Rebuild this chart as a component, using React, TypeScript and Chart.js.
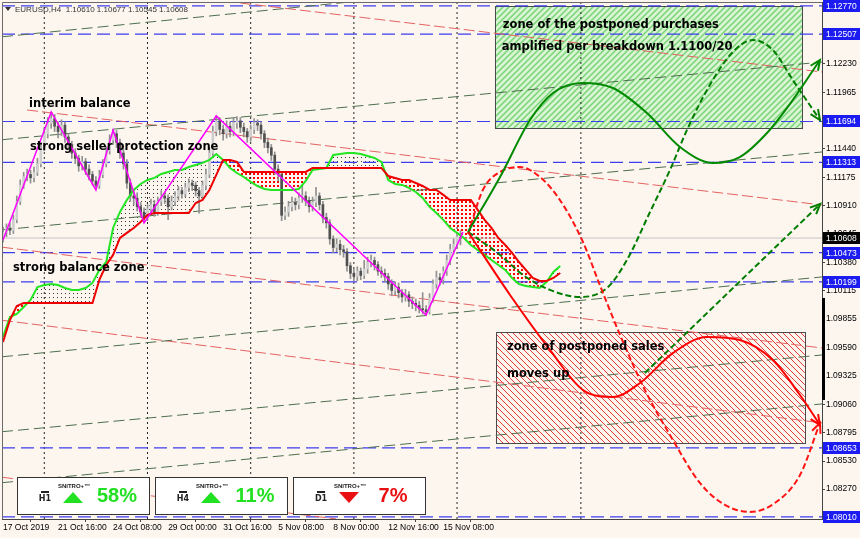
import React, { useEffect, useRef } from 'react';
import { Chart, registerables } from 'chart.js';

Chart.register(...registerables);

const BG = '#fcf6ef';
const AXIS_FAMILY = '"Liberation Sans", Arial, sans-serif';
const NOTE_FONT = 'bold 11.5px "DejaVu Sans", sans-serif';

const X_MIN = -0.3;
const X_MAX = 238.1;
const Y_MIN = 1.07991;
const Y_MAX = 1.12807;

const symbolHeader = 'EURUSD,H4  1.10610 1.10677 1.10545 1.10608';

const xTickBars = [0, 16, 32, 48, 64, 80, 96, 112, 128];
const xTickLabels = ['17 Oct 2019', '21 Oct 16:00', '24 Oct 08:00', '29 Oct 00:00', '31 Oct 16:00', '5 Nov 08:00', '8 Nov 00:00', '12 Nov 16:00', '15 Nov 08:00'];
const yTickValues = [1.1223, 1.11965, 1.1144, 1.11175, 1.1091, 1.10645, 1.1038, 1.10115, 1.09855, 1.0959, 1.09325, 1.0906, 1.08795, 1.0853, 1.0827];
const levelLines = [1.1277, 1.12507, 1.11694, 1.11313, 1.10473, 1.10199, 1.08653, 1.0801];
const currentPrice = 1.10608;
const rangeMarker = [1.091, 1.1005];
const weekSeparators = [12, 42, 72, 102, 132, 168];

const opens = [
  1.1062, 1.1066, 1.1070, 1.1068, 1.1078, 1.1095, 1.1110, 1.1118, 1.1120, 1.1117,
  1.1122, 1.1130, 1.1145, 1.1158, 1.1168, 1.1172, 1.1165, 1.1160, 1.1166, 1.1155,
  1.1148, 1.1140, 1.1135, 1.1128, 1.1132, 1.1125, 1.1120, 1.1114, 1.1110, 1.1120,
  1.1130, 1.1142, 1.1152, 1.1158, 1.1150, 1.1140, 1.1130, 1.1112, 1.1100, 1.1098,
  1.1090, 1.1085, 1.1080, 1.1088, 1.1092, 1.1085, 1.1095, 1.1100, 1.1098, 1.1090,
  1.1095, 1.1100, 1.1105, 1.1102, 1.1108, 1.1112, 1.1110, 1.1105, 1.1100, 1.1110,
  1.1120, 1.1140, 1.1160, 1.1170, 1.1162, 1.1158, 1.1165, 1.1160, 1.1168, 1.1170,
  1.1164, 1.1160, 1.1155, 1.1162, 1.1168, 1.1166, 1.1158, 1.1150, 1.1145, 1.1138,
  1.1125, 1.1120, 1.1082, 1.1085, 1.1090, 1.1094, 1.1092, 1.1098, 1.1100, 1.1096,
  1.1090, 1.1094, 1.1100, 1.1092, 1.1080, 1.1075, 1.1060, 1.1052, 1.1055, 1.1050,
  1.1048, 1.1035, 1.1028, 1.1025, 1.1030, 1.1026, 1.1032, 1.1038, 1.1040, 1.1036,
  1.1030, 1.1028, 1.1025, 1.1018, 1.1012, 1.1015, 1.1010, 1.1006, 1.1008, 1.1002,
  1.1000, 1.0998, 1.0995, 1.0994, 1.0992, 1.1005, 1.1018, 1.1024, 1.1022, 1.1030,
  1.1040, 1.1050, 1.1055, 1.1061,
];
const closes = [
  1.1066, 1.1070, 1.1068, 1.1078, 1.1095, 1.1110, 1.1118, 1.1120, 1.1117, 1.1122,
  1.1130, 1.1145, 1.1158, 1.1168, 1.1172, 1.1165, 1.1160, 1.1166, 1.1155, 1.1148,
  1.1140, 1.1135, 1.1128, 1.1132, 1.1125, 1.1120, 1.1114, 1.1110, 1.1120, 1.1130,
  1.1142, 1.1152, 1.1158, 1.1150, 1.1140, 1.1130, 1.1112, 1.1100, 1.1098, 1.1090,
  1.1085, 1.1080, 1.1088, 1.1092, 1.1085, 1.1095, 1.1100, 1.1098, 1.1090, 1.1095,
  1.1100, 1.1105, 1.1102, 1.1108, 1.1112, 1.1110, 1.1105, 1.1100, 1.1110, 1.1120,
  1.1140, 1.1160, 1.1170, 1.1162, 1.1158, 1.1165, 1.1160, 1.1168, 1.1170, 1.1164,
  1.1160, 1.1155, 1.1162, 1.1168, 1.1166, 1.1158, 1.1150, 1.1145, 1.1138, 1.1125,
  1.1120, 1.1082, 1.1085, 1.1090, 1.1094, 1.1092, 1.1098, 1.1100, 1.1096, 1.1090,
  1.1094, 1.1100, 1.1092, 1.1080, 1.1075, 1.1060, 1.1052, 1.1055, 1.1050, 1.1048,
  1.1035, 1.1028, 1.1025, 1.1030, 1.1026, 1.1032, 1.1038, 1.1040, 1.1036, 1.1030,
  1.1028, 1.1025, 1.1018, 1.1012, 1.1015, 1.1010, 1.1006, 1.1008, 1.1002, 1.1000,
  1.0998, 1.0995, 1.0994, 1.0992, 1.1005, 1.1018, 1.1024, 1.1022, 1.1030, 1.1040,
  1.1050, 1.1055, 1.1062, 1.10608,
];
const highs = [
  1.1071, 1.1074, 1.1075, 1.1082, 1.1100, 1.1115, 1.1122, 1.1125, 1.1124, 1.1127,
  1.1135, 1.1150, 1.1163, 1.1173, 1.1178, 1.1176, 1.1169, 1.1171, 1.1169, 1.1158,
  1.1151, 1.1144, 1.1138, 1.1137, 1.1135, 1.1129, 1.1123, 1.1118, 1.1124, 1.1134,
  1.1146, 1.1157, 1.1162, 1.1161, 1.1153, 1.1144, 1.1134, 1.1116, 1.1106, 1.1103,
  1.1094, 1.1089, 1.1092, 1.1097, 1.1096, 1.1099, 1.1105, 1.1104, 1.1101, 1.1100,
  1.1104, 1.1109, 1.1108, 1.1112, 1.1116, 1.1115, 1.1113, 1.1108, 1.1114, 1.1125,
  1.1145, 1.1165, 1.1175, 1.1173, 1.1166, 1.1170, 1.1169, 1.1173, 1.1174, 1.1173,
  1.1168, 1.1163, 1.1166, 1.1172, 1.1171, 1.1169, 1.1161, 1.1154, 1.1148, 1.1141,
  1.1129, 1.1123, 1.1090, 1.1095, 1.1099, 1.1098, 1.1103, 1.1110, 1.1104, 1.1099,
  1.1099, 1.1108, 1.1103, 1.1095, 1.1084, 1.1078, 1.1063, 1.1060, 1.1059, 1.1054,
  1.1051, 1.1038, 1.1032, 1.1034, 1.1033, 1.1040, 1.1043, 1.1045, 1.1043, 1.1039,
  1.1034, 1.1032, 1.1028, 1.1022, 1.1020, 1.1019, 1.1013, 1.1013, 1.1011, 1.1006,
  1.1004, 1.1002, 1.1010, 1.0998, 1.1009, 1.1022, 1.1030, 1.1028, 1.1034, 1.1045,
  1.1055, 1.1060, 1.1066, 1.10677,
];
const lows = [
  1.1057, 1.1062, 1.1064, 1.1065, 1.1075, 1.1092, 1.1107, 1.1114, 1.1112, 1.1113,
  1.1119, 1.1127, 1.1142, 1.1154, 1.1163, 1.1160, 1.1154, 1.1156, 1.1150, 1.1143,
  1.1135, 1.1130, 1.1123, 1.1124, 1.1120, 1.1115, 1.1110, 1.1106, 1.1107, 1.1117,
  1.1127, 1.1139, 1.1148, 1.1145, 1.1135, 1.1125, 1.1107, 1.1095, 1.1092, 1.1086,
  1.1080, 1.1075, 1.1077, 1.1084, 1.1081, 1.1082, 1.1091, 1.1093, 1.1078, 1.1087,
  1.1091, 1.1096, 1.1098, 1.1099, 1.1104, 1.1105, 1.1100, 1.1084, 1.1096, 1.1106,
  1.1117, 1.1136, 1.1156, 1.1157, 1.1152, 1.1154, 1.1155, 1.1156, 1.1163, 1.1159,
  1.1155, 1.1150, 1.1151, 1.1158, 1.1161, 1.1153, 1.1145, 1.1140, 1.1133, 1.1120,
  1.1114, 1.1077, 1.1078, 1.1081, 1.1086, 1.1087, 1.1088, 1.1094, 1.1091, 1.1085,
  1.1086, 1.1090, 1.1087, 1.1075, 1.1070, 1.1055, 1.1047, 1.1048, 1.1045, 1.1043,
  1.1030, 1.1023, 1.1021, 1.1021, 1.1022, 1.1023, 1.1028, 1.1034, 1.1031, 1.1026,
  1.1024, 1.1020, 1.1013, 1.1007, 1.1008, 1.1005, 1.1001, 1.1002, 1.0997, 1.0995,
  1.0993, 1.0991, 1.0990, 1.0989, 1.0990, 1.1001, 1.1014, 1.1017, 1.1018, 1.1026,
  1.1036, 1.1046, 1.1051, 1.10545,
];

// Ichimoku cloud edges, one value every 2 bars (bar 0 .. bar 162)
const spanA = [
  1.09687, 1.09873, 1.09901, 1.09966, 1.10031, 1.10152, 1.10171, 1.10180, 1.10171, 1.10143,
  1.10125, 1.10125, 1.10143, 1.10190, 1.10311, 1.10385, 1.10702, 1.10851, 1.10963, 1.11056,
  1.11112, 1.11149, 1.11168, 1.11205, 1.11224, 1.11242, 1.11242, 1.11270, 1.11289, 1.11308,
  1.11336, 1.11391, 1.11336, 1.11261, 1.11214, 1.11177, 1.11131, 1.11093, 1.11065, 1.11056,
  1.11056, 1.11056, 1.11056, 1.11065, 1.11140, 1.11242, 1.11252, 1.11261, 1.11382, 1.11391,
  1.11401, 1.11401, 1.11391, 1.11373, 1.11354, 1.11317, 1.11149, 1.11112, 1.11103, 1.11075,
  1.11037, 1.10982, 1.10898, 1.10842, 1.10777, 1.10702, 1.10656, 1.10609, 1.10544, 1.10497,
  1.10451, 1.10404, 1.10357, 1.10311, 1.10236, 1.10180, 1.10162, 1.10152, 1.10143, 1.10199,
  1.10292, 1.10348,
];
const spanB = [
  1.09640, 1.09845, 1.09976, 1.10003, 1.10003, 1.10003, 1.10003, 1.10003, 1.10003, 1.10003,
  1.10003, 1.10003, 1.10003, 1.10003, 1.10218, 1.10357, 1.10451, 1.10609, 1.10656, 1.10702,
  1.10758, 1.10823, 1.10842, 1.10842, 1.10842, 1.10842, 1.10842, 1.10842, 1.10935, 1.10963,
  1.11056, 1.11196, 1.11336, 1.11336, 1.11317, 1.11224, 1.11224, 1.11224, 1.11224, 1.11224,
  1.11224, 1.11224, 1.11224, 1.11224, 1.11224, 1.11261, 1.11261, 1.11261, 1.11261, 1.11261,
  1.11261, 1.11261, 1.11261, 1.11261, 1.11261, 1.11261, 1.11186, 1.11168, 1.11149, 1.11149,
  1.11121, 1.11093, 1.11056, 1.11056, 1.11010, 1.10963, 1.10963, 1.10963, 1.10963, 1.10870,
  1.10777, 1.10702, 1.10609, 1.10544, 1.10469, 1.10385, 1.10311, 1.10236, 1.10208, 1.10208,
  1.10236, 1.10283,
];

const zigzagBars = [0, 14, 27, 32, 41, 62, 123, 133.7];
const zigzagPrices = [1.1059, 1.11783, 1.11056, 1.11615, 1.10749, 1.11745, 1.09892, 1.10665];

// trend / channel lines: [bar0, price0, bar1, price1]
const redChannelLines = [
  [-0.3, 1.13061, 238.1, 1.12155],
  [7.0, 1.11801, 238.1, 1.10916],
  [-0.3, 1.10523, 238.1, 1.09584],
  [-0.3, 1.09842, 238.1, 1.08886],
  [-0.3, 1.0838, 96.8, 1.07992],
];
const greenChannelLines = [
  [-0.3, 1.12483, 238.1, 1.13247],
  [-0.3, 1.11524, 238.1, 1.12248],
  [-0.3, 1.10685, 238.1, 1.1141],
  [-0.3, 1.09502, 238.1, 1.10246],
  [-0.3, 1.08804, 238.1, 1.09519],
  [-0.3, 1.08329, 238.1, 1.09063],
];

// projected paths
const greenSolidBars = [135.2, 144.5, 153.2, 159.9, 168.6, 177.3, 187.2, 196.8, 206.4, 214.2, 222.1, 229.6, 237.5];
const greenSolidPrices = [1.10665, 1.11177, 1.11708, 1.1196, 1.12053, 1.12006, 1.11773, 1.11457, 1.11308, 1.11363, 1.11587, 1.11894, 1.12267];
const greenDashBars = [135.2, 144.5, 151.2, 159.0, 167.7, 175.6, 181.4, 188.1, 193.9, 199.1, 205.5, 212.2, 218.0, 223.8, 229.6, 237.5];
const greenDashPrices = [1.10665, 1.10451, 1.10264, 1.10125, 1.10059, 1.10143, 1.10404, 1.10851, 1.11242, 1.11634, 1.12034, 1.12342, 1.12453, 1.1236, 1.12081, 1.11708];
const greenArrowBars = [186.6, 237.6];
const greenArrowPrices = [1.09351, 1.10926];
const redSolidBars = [135.2, 147.4, 159.0, 168.6, 177.3, 185.2, 194.8, 204.6, 214.2, 223.8, 231.7, 237.5];
const redSolidPrices = [1.10665, 1.10078, 1.09566, 1.09193, 1.09128, 1.09258, 1.09538, 1.09687, 1.09659, 1.09472, 1.09146, 1.08867];
const redDashBars = [135.2, 139.5, 144.5, 150.3, 156.1, 161.9, 168.6, 173.5, 179.4, 186.6, 193.9, 202.6, 209.9, 217.1, 224.4, 231.7, 237.5];
const redDashPrices = [1.10646, 1.11056, 1.11224, 1.1127, 1.11177, 1.10963, 1.10572, 1.10171, 1.09705, 1.09193, 1.08774, 1.08327, 1.08122, 1.08057, 1.0814, 1.08401, 1.08886];

// zones: [bar0, bar1, priceLow, priceHigh]
const buyZone = [143.0, 232.3, 1.11634, 1.1277];
const sellZone = [143.3, 233.1, 1.08699, 1.09733];

const noteTexts = [
  'interim balance',
  'strong seller protection zone',
  'strong balance zone',
  'zone of the postponed purchases',
  'amplified per breakdown 1.1100/20',
  'zone of postponed sales',
  'moves up',
];
const noteBars = [7.55, 7.84, 2.9, 145.3, 145.0, 146.5, 146.5];
const notePrices = [1.11857, 1.11457, 1.1033, 1.12593, 1.12388, 1.09594, 1.09342];

const signalFrames = ['H1', 'H4', 'D1'];
const signalPercents = ['58%', '11%', '7%'];
const signalUp = [true, true, false];

function stripe(ctx: CanvasRenderingContext2D, size: number, bg: string | null, fg: string, lw: number, forward: boolean) {
  const c = document.createElement('canvas');
  c.width = size;
  c.height = size;
  const g = c.getContext('2d')!;
  if (bg) {
    g.fillStyle = bg;
    g.fillRect(0, 0, size, size);
  }
  g.strokeStyle = fg;
  g.lineWidth = lw;
  g.beginPath();
  if (forward) {
    g.moveTo(-1, size + 1); g.lineTo(size + 1, -1);
    g.moveTo(-1, 1); g.lineTo(1, -1);
    g.moveTo(size - 1, size + 1); g.lineTo(size + 1, size - 1);
  } else {
    g.moveTo(-1, -1); g.lineTo(size + 1, size + 1);
    g.moveTo(-1, size - 1); g.lineTo(1, size + 1);
    g.moveTo(size - 1, -1); g.lineTo(size + 1, 1);
  }
  g.stroke();
  return ctx.createPattern(c, 'repeat')!;
}

function dots(ctx: CanvasRenderingContext2D, color: string, w: number, h: number, dw: number, dh: number) {
  const c = document.createElement('canvas');
  c.width = w;
  c.height = h;
  const g = c.getContext('2d')!;
  g.fillStyle = color;
  g.fillRect(1, 1, dw, dh);
  return ctx.createPattern(c, 'repeat')!;
}

function arrowHead(ctx: CanvasRenderingContext2D, tx: number, ty: number, fx: number, fy: number, color: string) {
  const a = Math.atan2(ty - fy, tx - fx);
  const len = 11;
  const sp = 0.42;
  ctx.save();
  ctx.setLineDash([]);
  ctx.strokeStyle = color;
  ctx.lineWidth = 2;
  ctx.beginPath();
  ctx.moveTo(tx - len * Math.cos(a - sp), ty - len * Math.sin(a - sp));
  ctx.lineTo(tx, ty);
  ctx.lineTo(tx - len * Math.cos(a + sp), ty - len * Math.sin(a + sp));
  ctx.stroke();
  ctx.restore();
}

const pairs = (xs: number[], ys: number[]) => xs.map((x, i) => ({ x, y: ys[i] }));

export default function App() {
  const ref = useRef<HTMLCanvasElement>(null);

  useEffect(() => {
    const canvas = ref.current;
    if (!canvas) return;
    const ctx0 = canvas.getContext('2d')!;

    const buyPattern = stripe(ctx0, 6, '#d9f4d1', '#79d479', 1.5, true);
    const sellPattern = stripe(ctx0, 6, null, '#e03a3a', 1, false);
    const darkDots = dots(ctx0, '#3a3a3a', 4, 4, 1, 1);
    const redDots = dots(ctx0, '#ff0000', 4, 4, 2, 2);

    const datasets: any[] = [];
    const line = (data: any[], color: string, width: number, dash: number[], order: number, extra: any = {}) => {
      datasets.push({
        type: 'line', data, borderColor: color, borderWidth: width, borderDash: dash,
        pointRadius: 0, fill: false, order, tension: 0, ...extra,
      });
      return datasets.length - 1;
    };

    weekSeparators.forEach((b) => line([{ x: b, y: Y_MIN }, { x: b, y: Y_MAX }], '#222222', 1, [2, 3], 100));
    levelLines.forEach((v) => line([{ x: X_MIN, y: v }, { x: X_MAX, y: v }], '#3d3df0', 1.2, [13, 6], 99));
    line([{ x: X_MIN, y: currentPrice }, { x: X_MAX, y: currentPrice }], '#c4c4c4', 1, [], 98);
    redChannelLines.forEach((l) => line([{ x: l[0], y: l[1] }, { x: l[2], y: l[3] }], '#e46262', 1, [11, 4], 97));
    greenChannelLines.forEach((l) => line([{ x: l[0], y: l[1] }, { x: l[2], y: l[3] }], '#4d6e4d', 1, [11, 5], 96));

    const bars = closes.map((_, i) => i);
    datasets.push({
      type: 'bar', data: bars.map((i) => ({ x: i, y: [lows[i], highs[i]] })),
      backgroundColor: '#909090', barThickness: 1, grouped: false, borderWidth: 0, order: 90,
    });
    datasets.push({
      type: 'bar', data: bars.map((i) => ({ x: i, y: [opens[i], closes[i]] })),
      backgroundColor: bars.map((i) => (closes[i] >= opens[i] ? '#cfcfcf' : '#505050')),
      barThickness: 2, grouped: false, borderWidth: 0, order: 89,
    });

    const cloudBars = spanA.map((_, i) => i * 2);
    line(pairs(cloudBars, spanA), '#22e622', 2, [], 80, { fill: { target: '+1', above: darkDots, below: redDots } });
    line(pairs(cloudBars, spanB), '#ee0000', 2, [], 79);

    line(pairs(zigzagBars, zigzagPrices), '#ff00ff', 1.5, [], 70);

    const curve = { cubicInterpolationMode: 'monotone', tension: 0.4 };
    const arrows: { idx: number; color: string }[] = [];
    arrows.push({ idx: line(pairs(greenDashBars, greenDashPrices), '#007d00', 2, [6, 3], 60, curve), color: '#007d00' });
    arrows.push({ idx: line(pairs(greenArrowBars, greenArrowPrices), '#007d00', 2, [6, 3], 59), color: '#007d00' });
    arrows.push({ idx: line(pairs(redDashBars, redDashPrices), '#ff1414', 2, [6, 3], 58, curve), color: '#ff1414' });
    arrows.push({ idx: line(pairs(redSolidBars, redSolidPrices), '#ff0000', 2, [], 57, curve), color: '#ff0000' });
    arrows.push({ idx: line(pairs(greenSolidBars, greenSolidPrices), '#008a00', 2, [], 56, curve), color: '#008a00' });

    const axisFont = { family: AXIS_FAMILY, size: 8.5 };

    const overlay = {
      id: 'overlay',
      beforeDatasetsDraw(chart: any) {
        const { ctx } = chart;
        const xs = chart.scales.x;
        const ys = chart.scales.y;
        const zone = (z: number[], pat: CanvasPattern) => {
          const x0 = xs.getPixelForValue(z[0]);
          const x1 = xs.getPixelForValue(z[1]);
          const y0 = ys.getPixelForValue(z[3]);
          const y1 = ys.getPixelForValue(z[2]);
          ctx.save();
          ctx.fillStyle = pat;
          ctx.fillRect(x0, y0, x1 - x0, y1 - y0);
          ctx.strokeStyle = '#4a4a4a';
          ctx.lineWidth = 1;
          ctx.strokeRect(Math.round(x0) + 0.5, Math.round(y0) + 0.5, Math.round(x1 - x0), Math.round(y1 - y0));
          ctx.restore();
        };
        zone(buyZone, buyPattern);
        zone(sellZone, sellPattern);
      },
      afterDatasetsDraw(chart: any) {
        const { ctx } = chart;
        arrows.forEach(({ idx, color }) => {
          const pts = chart.getDatasetMeta(idx).data as any[];
          const n = pts.length;
          const tip = pts[n - 1];
          let fx = tip.cp1x;
          let fy = tip.cp1y;
          if (fx === undefined || fy === undefined || Math.hypot(tip.x - fx, tip.y - fy) < 1) {
            fx = pts[n - 2].x;
            fy = pts[n - 2].y;
          }
          arrowHead(ctx, tip.x, tip.y, fx, fy, color);
        });
      },
      afterDraw(chart: any) {
        const { ctx, chartArea } = chart;
        const xs = chart.scales.x;
        const ys = chart.scales.y;
        ctx.save();
        ctx.strokeStyle = '#6a6a6a';
        ctx.lineWidth = 1;
        ctx.beginPath();
        ctx.moveTo(chartArea.left + 0.5, chartArea.bottom);
        ctx.lineTo(chartArea.left + 0.5, chartArea.top + 0.5);
        ctx.lineTo(chartArea.right, chartArea.top + 0.5);
        ctx.stroke();

        ctx.fillStyle = '#000';
        const r0 = ys.getPixelForValue(rangeMarker[1]);
        const r1 = ys.getPixelForValue(rangeMarker[0]);
        ctx.fillRect(chartArea.right, r0, 3, r1 - r0);

        const label = (v: number, bg: string) => {
          const y = Math.round(ys.getPixelForValue(v));
          ctx.fillStyle = bg;
          ctx.fillRect(chartArea.right + 1, y - 6, 37, 12);
          ctx.fillStyle = '#ffffff';
          ctx.font = `8.5px ${AXIS_FAMILY}`;
          ctx.textAlign = 'left';
          ctx.textBaseline = 'middle';
          ctx.fillText(v.toFixed(5), chartArea.right + 4, y + 0.5);
        };
        levelLines.forEach((v) => label(v, '#1c1cf2'));
        label(currentPrice, '#000000');

        ctx.fillStyle = '#000';
        ctx.font = NOTE_FONT;
        ctx.textAlign = 'left';
        ctx.textBaseline = 'middle';
        noteTexts.forEach((t, i) => {
          ctx.fillText(t, xs.getPixelForValue(noteBars[i]), ys.getPixelForValue(notePrices[i]));
        });

        ctx.fillStyle = '#333';
        ctx.beginPath();
        ctx.moveTo(5, 7); ctx.lineTo(11, 7); ctx.lineTo(8, 11); ctx.closePath();
        ctx.fill();
        ctx.font = `8px ${AXIS_FAMILY}`;
        ctx.textBaseline = 'middle';
        ctx.fillText(symbolHeader, 15, 9.5);

        signalFrames.forEach((tf, i) => {
          const left = 17 + i * 138;
          const top = 477;
          const w = 132;
          const h = 37;
          ctx.fillStyle = '#ffffff';
          ctx.fillRect(left, top, w, h);
          ctx.strokeStyle = '#333';
          ctx.lineWidth = 1;
          ctx.strokeRect(left + 0.5, top + 0.5, w, h);
          ctx.fillStyle = '#222';
          ctx.font = `bold 6px ${AXIS_FAMILY}`;
          ctx.textAlign = 'center';
          ctx.fillText('SNITRO+™', left + 57, top + 9);
          ctx.fillRect(left + 24, top + 14, 8, 2);
          ctx.font = `bold 8px "DejaVu Sans", sans-serif`;
          ctx.fillText(tf, left + 28, top + 22);
          const col = signalUp[i] ? '#22e022' : '#e81010';
          const cx = left + 56;
          ctx.fillStyle = col;
          ctx.beginPath();
          if (signalUp[i]) {
            ctx.moveTo(cx - 10, top + 26); ctx.lineTo(cx + 10, top + 26); ctx.lineTo(cx, top + 15);
          } else {
            ctx.moveTo(cx - 10, top + 15); ctx.lineTo(cx + 10, top + 15); ctx.lineTo(cx, top + 26);
          }
          ctx.closePath();
          ctx.fill();
          ctx.font = `bold 20px ${AXIS_FAMILY}`;
          ctx.fillText(signalPercents[i], left + 100, top + 19);
        });
        ctx.restore();
      },
    };

    const chart = new Chart(canvas, {
      type: 'line',
      data: { datasets },
      options: {
        responsive: false,
        animation: false,
        events: [],
        layout: { padding: { left: 2, top: 2, right: 0, bottom: 0 } },
        plugins: {
          legend: { display: false },
          tooltip: { enabled: false },
          filler: { drawTime: 'beforeDatasetsDraw' },
        },
        elements: { point: { radius: 0 } },
        scales: {
          x: {
            type: 'linear', min: X_MIN, max: X_MAX, offset: false,
            afterBuildTicks: (s: any) => { s.ticks = xTickBars.map((v) => ({ value: v })); },
            afterFit: (s: any) => { s.height = 19; s.paddingLeft = 0; s.paddingRight = 0; },
            ticks: {
              autoSkip: false, maxRotation: 0, minRotation: 0, align: 'start', padding: 1,
              color: '#000', font: axisFont,
              callback: (_v: any, i: number) => xTickLabels[i],
            },
            grid: { drawOnChartArea: false, drawTicks: true, tickLength: 3, color: '#444' },
            border: { display: true, color: '#444' },
          },
          y: {
            type: 'linear', position: 'right', min: Y_MIN, max: Y_MAX,
            afterBuildTicks: (s: any) => { s.ticks = yTickValues.map((v) => ({ value: v })); },
            afterFit: (s: any) => { s.width = 38; s.paddingTop = 0; s.paddingBottom = 0; },
            ticks: {
              autoSkip: false, padding: 1, color: '#000', font: axisFont,
              callback: (v: any) => Number(v).toFixed(5),
            },
            grid: { drawOnChartArea: false, drawTicks: true, tickLength: 3, color: '#444' },
            border: { display: true, color: '#444' },
          },
        },
      } as any,
      plugins: [overlay],
    });
    return () => chart.destroy();
  }, []);

  return (
    <div style={{ position: 'fixed', left: 0, top: 0, width: 860, height: 538, background: BG }}>
      <canvas ref={ref} width={860} height={538} style={{ display: 'block', width: 860, height: 538 }} />
    </div>
  );
}
